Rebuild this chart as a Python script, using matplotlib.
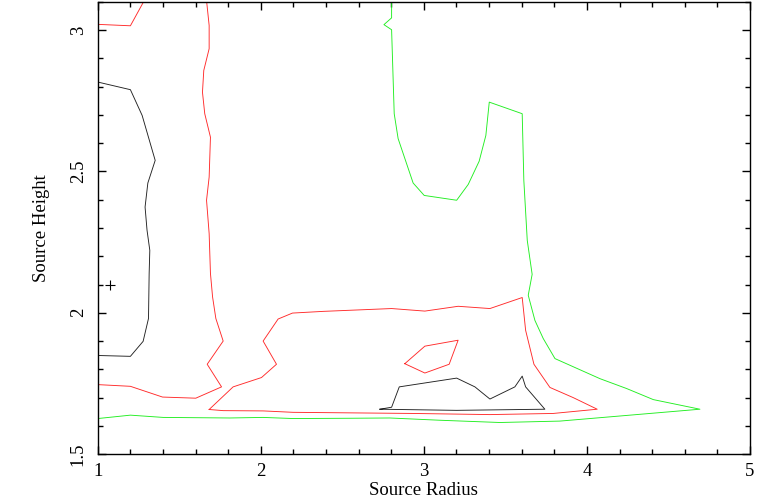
import matplotlib
matplotlib.use('Agg')
import matplotlib.pyplot as plt
from matplotlib.ticker import MultipleLocator

plt.rcParams['font.family'] = ['Liberation Serif', 'DejaVu Serif']
plt.rcParams['font.size'] = 13.5

# contour lines (Source Radius, Source Height)
black_left_x = [1.0, 1.2, 1.272, 1.352, 1.307, 1.29, 1.302, 1.319, 1.315, 1.311, 1.278, 1.2, 1.0]
black_left_y = [2.816, 2.789, 2.698, 2.539, 2.459, 2.374, 2.292, 2.221, 2.139, 1.98, 1.899, 1.846, 1.849]

black_small_x = [2.73, 2.802, 2.849, 3.201, 3.313, 3.405, 3.558, 3.603, 3.624, 3.742, 3.2, 2.73]
black_small_y = [1.659, 1.666, 1.738, 1.769, 1.738, 1.695, 1.738, 1.776, 1.738, 1.659, 1.655, 1.659]

red_corner_x = [1.0, 1.2, 1.3]
red_corner_y = [3.02, 3.015, 3.12]

red_left_x = [1.667, 1.683, 1.683, 1.65, 1.642, 1.656, 1.691, 1.683, 1.667, 1.683, 1.691, 1.704,
              1.724, 1.769, 1.671, 1.759, 1.601, 1.397, 1.2, 1.0]
red_left_y = [3.104, 3.016, 2.934, 2.857, 2.78, 2.704, 2.621, 2.48, 2.398, 2.28, 2.139, 2.056,
              1.98, 1.9, 1.818, 1.738, 1.698, 1.702, 1.74, 1.746]

red_loop_x = [1.683, 1.83, 2.004, 2.096, 2.014, 2.106, 2.194, 2.382, 2.802, 3.006, 3.21, 3.405,
              3.603, 3.624, 3.675, 3.773, 3.916, 4.063, 3.793, 3.405, 2.934, 2.198, 2.014, 1.769, 1.683]
red_loop_y = [1.658, 1.738, 1.771, 1.818, 1.9, 1.978, 1.999, 2.005, 2.015, 2.006, 2.023, 2.015,
              2.054, 1.938, 1.818, 1.736, 1.7, 1.659, 1.644, 1.64, 1.644, 1.648, 1.653, 1.654, 1.658]

red_small_x = [2.883, 3.006, 3.21, 3.155, 3.006, 2.883]
red_small_y = [1.82, 1.882, 1.903, 1.818, 1.787, 1.82]

green_x = [2.802, 2.802, 2.755, 2.802, 2.818, 2.842, 2.934, 3.002, 3.201, 3.272, 3.339, 3.38,
           3.401, 3.603, 3.613, 3.634, 3.664, 3.64, 3.681, 3.732, 3.804, 4.08, 4.244, 4.407,
           4.693, 3.834, 3.466, 3.098, 2.791, 2.546, 2.198, 2.014, 1.81, 1.401, 1.2, 1.0]
green_y = [3.104, 3.043, 3.019, 3.001, 2.704, 2.616, 2.459, 2.415, 2.398, 2.454, 2.536, 2.627,
           2.745, 2.704, 2.468, 2.256, 2.136, 2.062, 1.973, 1.909, 1.838, 1.767, 1.732, 1.693,
           1.659, 1.617, 1.612, 1.62, 1.628, 1.627, 1.626, 1.63, 1.628, 1.63, 1.638, 1.626]

best_fit = (1.075, 2.097)

fig = plt.figure(figsize=(7.7, 4.98), dpi=100)
ax = fig.add_axes([0.127, 0.088, 0.847, 0.9085])

lw = 0.65
ax.plot(black_left_x, black_left_y, color='#222222', lw=lw)
ax.plot(black_small_x, black_small_y, color='#222222', lw=lw)
for xs, ys in [(red_corner_x, red_corner_y), (red_left_x, red_left_y),
               (red_loop_x, red_loop_y), (red_small_x, red_small_y)]:
    ax.plot(xs, ys, color='#ff2a2a', lw=lw)
ax.plot(green_x, green_y, color='#22ee22', lw=lw)
ax.plot(*best_fit, marker='+', color='black', ms=7, mew=0.8)

ax.set_xlim(1, 5)
ax.set_ylim(1.5, 3.1)
ax.set_xticks([1, 2, 3, 4, 5])
ax.set_yticks([1.5, 2, 2.5, 3])
ax.set_xticklabels(['1', '2', '3', '4', '5'])
ax.set_yticklabels(['1.5', '2', '2.5', '3'])
ax.xaxis.set_minor_locator(MultipleLocator(0.2))
ax.yaxis.set_minor_locator(MultipleLocator(0.1))
ax.tick_params(which='both', direction='in', top=True, right=True, width=1)
ax.tick_params(which='major', length=6, pad=6)
ax.tick_params(which='minor', length=3.4)
ax.tick_params(axis='y', labelrotation=90, pad=8)
for lab in ax.get_yticklabels():
    lab.set_va('center')
for sp in ax.spines.values():
    sp.set_linewidth(1)

ax.set_xlabel('Source Radius', labelpad=1.5)
ax.set_ylabel('Source Height', labelpad=14)

fig.savefig('out.png', dpi=100)
